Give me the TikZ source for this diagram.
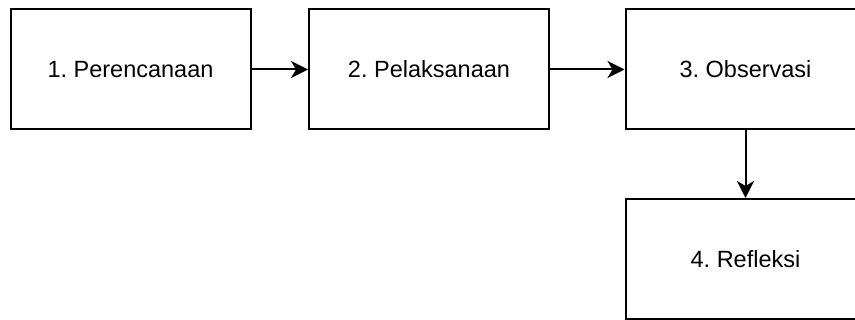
\documentclass[tikz,border=0pt]{standalone}
\usepackage{fontspec}
\setmainfont{Liberation Sans}
\usetikzlibrary{arrows.meta}
\frenchspacing
\begin{document}
\begin{tikzpicture}[x=1pt,y=-1pt,
  stepbox/.style={draw=black, line width=2pt, minimum width=240pt, minimum height=120pt, inner sep=0pt, font=\fontsize{23.5}{28}\selectfont},
  conn/.style={line width=2pt, -{Stealth[length=17pt,width=17pt,inset=5pt]}}]
\useasboundingbox (0,0) rectangle (855,320);
\clip (0,0) rectangle (855,320);
\node[stepbox] (a) at (130.5,69.5) {1. Perencanaan};
\node[stepbox] (b) at (429,69.5) {2. Pelaksanaan};
\node[stepbox] (c) at (745.5,69.5) {3. Observasi};
\node[stepbox] (d) at (745.5,259) {4. Refleksi};
\draw[conn] (a) -- (b);
\draw[conn] (b) -- (c);
\draw[conn] (c) -- (d);
\end{tikzpicture}
\end{document}
